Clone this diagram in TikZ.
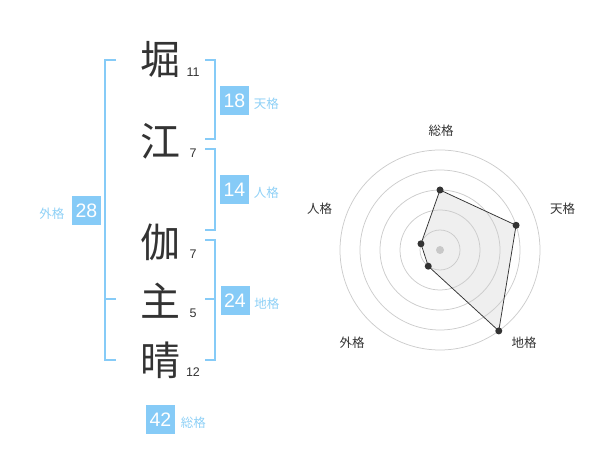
\documentclass[tikz,border=0pt]{standalone}
\usepackage{fontspec}
\setmainfont{Liberation Sans}
\newfontfamily\cjk{Noto Sans CJK JP}
\usepackage{xcolor}
\usetikzlibrary{positioning}
\definecolor{kakublue}{HTML}{86CBF7}
\definecolor{labelblue}{HTML}{8ED0F6}
\definecolor{ink}{HTML}{333333}
\definecolor{ring}{HTML}{CCCCCC}
\definecolor{hub}{HTML}{C8C8C8}
\definecolor{area}{HTML}{EFEFEF}
\tikzset{every picture/.style={line width=0.75pt}}
\tikzset{
  kanji/.style={inner sep=0pt, text=ink, font=\cjk\fontsize{40}{40}\selectfont},
  kakusu/.style={inner sep=0pt, text=ink, font=\fontsize{12.5}{12.5}\selectfont},
  kaku/.style={fill=kakublue, text=white, minimum size=29pt, inner sep=0pt, font=\fontsize{19.5}{19.5}\selectfont},
  kakuname/.style={inner sep=0pt, text=labelblue, font=\cjk\fontsize{12.5}{12.5}\selectfont},
  axisname/.style={inner sep=0pt, text=ink, font=\cjk\fontsize{12.5}{12.5}\selectfont},
  brk/.style={draw=kakublue, line width=2pt},
  ratedot/.style={circle, fill=ink, inner sep=0pt, minimum size=7pt}
}

\begin{document}
\begin{tikzpicture}[x=1pt,y=-1pt]
\useasboundingbox (0,0) rectangle (600,470);
%
\foreach \i/\ch/\y/\n in {1/堀/60/11, 2/江/141/7, 3/伽/242/7, 4/主/301/5, 5/晴/360/12}{
  \node[kanji] (c\i) at (160,\y) {\ch};
  \node[kakusu] (n\i) at (193,\y+12) {\n};
}
%
\draw[brk] (116,60) -| (105,360) -- (116,360);
\draw[brk] (105,299) -- (116,299);
\draw[brk] (205,60) -| (215,139) -- (205,139);
\draw[brk] (205,149) -| (215,230) -- (205,230);
\draw[brk] (205,240) -| (215,360) -- (205,360);
\draw[brk] (215,299) -- (205,299);
%
\node[kaku] (ten) at (234.5,100.5) {18};
\node[kaku] (jin) at (234.5,190) {14};
\node[kaku] (chi) at (235,300.5) {24};
\node[kaku] (gai) at (86.5,210.5) {28};
\node[kaku] (sou) at (160.5,419.5) {42};
\node[kakuname, right=4pt of ten, yshift=-3pt] (tenL) {天格};
\node[kakuname, right=4pt of jin, yshift=-3pt] (jinL) {人格};
\node[kakuname, right=4pt of chi, yshift=-3pt] (chiL) {地格};
\node[kakuname, left=7pt of gai, yshift=-3pt] (gaiL) {外格};
\node[kakuname, right=5pt of sou, yshift=-3pt] (souL) {総格};
%
\begin{scope}[shift={(440,250)}, y=1pt]
\foreach \nm/\a/\v in {sou/90/60, ten/18/80, chi/-54/100, gai/-126/20, jin/162/20}
  \node[inner sep=0pt] (p\nm) at (\a:\v) {};
\fill[area] (psou.center) -- (pten.center) -- (pchi.center) -- (pgai.center) -- (pjin.center) -- cycle;
\foreach \r in {20,40,...,100}
  \draw[ring] (0,0) circle (\r pt);
\fill[hub] (0,0) circle (4pt);
\draw[ink] (psou.center) -- (pten.center) -- (pchi.center) -- (pgai.center) -- (pjin.center) -- cycle;
\foreach \nm in {sou,ten,chi,gai,jin}
  \node[ratedot] (r\nm) at (p\nm) {};
%
\node[axisname] (lsou) at (1,119) {総格};
\node[axisname] (lten) at (122.5,41.5) {天格};
\node[axisname] (lchi) at (84,-92.5) {地格};
\node[axisname] (lgai) at (-88,-92.5) {外格};
\node[axisname] (ljin) at (-120.5,41.5) {人格};
\end{scope}
\end{tikzpicture}
\end{document}
